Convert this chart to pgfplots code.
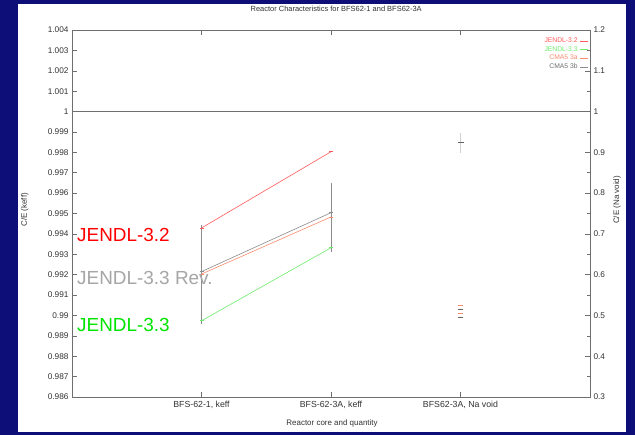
\documentclass[border=0pt]{standalone}
\usepackage{pgfplots}
\pgfplotsset{compat=1.18}
\usepackage{fontspec}
\setmainfont{Liberation Sans}
\definecolor{slideblue}{RGB}{14,14,120}
\definecolor{cred}{RGB}{255,90,90}
\definecolor{cgreen}{RGB}{110,235,110}
\definecolor{corange}{RGB}{250,140,110}
\definecolor{cgray}{RGB}{140,140,140}
\definecolor{axgray}{RGB}{110,110,110}
\begin{document}
\begin{tikzpicture}
\fill[slideblue] (0bp,0bp) rectangle (635bp,435bp);
\fill[white] (18bp,3bp) rectangle (626bp,431bp);
\begin{axis}[
  at={(72bp,38bp)}, anchor=south west,
  scale only axis, width=518bp, height=367bp,
  xmin=0, xmax=4, ymin=0.986, ymax=1.004,
  axis line style={axgray, line width=0.6pt},
  tick style={axgray, line width=0.5pt},
  tick align=inside, major tick length=5bp,
  xtick={1,2,3},
  xticklabels={{BFS-62-1, keff},{BFS-62-3A, keff},{BFS62-3A, Na void}},
  ytick={0.986,0.987,0.988,0.989,0.99,0.991,0.992,0.993,0.994,0.995,0.996,0.997,0.998,0.999,1,1.001,1.002,1.003,1.004},
  yticklabels={0.986,0.987,0.988,0.989,0.99,0.991,0.992,0.993,0.994,0.995,0.996,0.997,0.998,0.999,1,1.001,1.002,1.003,1.004},
  ytick pos=left,
  ticklabel style={font=\fontsize{8.3}{9}\selectfont, text=black!80},
  xticklabel style={yshift=-1bp, font=\fontsize{8.8}{9}\selectfont},
  xlabel={Reactor core and quantity},
  xlabel style={at={(axis description cs:0.502,-0.071)}, anchor=center, font=\fontsize{8}{9}\selectfont, text=black!80},
  ylabel={C/E (keff)},
  ylabel style={at={(axis description cs:-0.091,0.51)}, anchor=center, font=\fontsize{8}{9}\selectfont, text=black!80},
  title={Reactor Characteristics for BFS62-1 and BFS62-3A},
  title style={at={(axis description cs:0.51,1.041)}, anchor=center, font=\fontsize{7.5}{8}\selectfont, text=black!80},
  legend style={at={(0.997,0.985)}, anchor=north east, draw=none, fill=none,
    font=\fontsize{6.8}{7}\selectfont, row sep=-1.5bp, inner sep=0pt},
  legend cell align=right, legend plot pos=right,
  legend image code/.code={\draw[#1] (0bp,0bp) -- (8bp,0bp); \draw[#1, mark repeat=1] plot coordinates {(4bp,0bp)};},
  clip=false,
]
\addplot[axgray, line width=0.6pt, forget plot] coordinates {(0,1) (4,1)};
\addplot[cred, line width=0.6pt, mark=-, mark size=2bp] coordinates {(1,0.99429) (2,0.99803)};
\addlegendentry{\textcolor{cred}{JENDL-3.2}}
\addplot[cgreen, line width=0.6pt, mark=-, mark size=2bp] coordinates {(1,0.98974) (2,0.99332)};
\addlegendentry{\textcolor{cgreen}{JENDL-3.3}}
\addplot[corange, line width=0.6pt, mark=-, mark size=2bp] coordinates {(1,0.99203) (2,0.99483)};
\addlegendentry{\textcolor{corange}{CMA5 3a}}
\addplot[cgray, line width=0.6pt, mark=-, mark size=2bp,
  error bars/.cd, y dir=both, y explicit, error bar style={cgray, line width=0.6pt}, error mark=-, error mark options={mark size=2bp}]
  coordinates {(1,0.99215) -= (0,0.00247) += (0,0.00219) (2,0.99504) -= (0,0.00183) += (0,0.00136)};
\addlegendentry{\textcolor{cgray!80!black}{CMA5 3b}}
\end{axis}
\begin{axis}[
  at={(72bp,38bp)}, anchor=south west,
  scale only axis, width=518bp, height=367bp,
  xmin=0, xmax=4, ymin=0.3, ymax=1.2,
  axis x line=none, axis y line*=right,
  axis line style={axgray, line width=0.6pt, -},
  tick style={axgray, line width=0.5pt},
  tick align=inside, major tick length=5bp, minor tick length=3bp,
  ytick={0.3,0.4,0.5,0.6,0.7,0.8,0.9,1,1.1,1.2},
  yticklabels={0.3,0.4,0.5,0.6,0.7,0.8,0.9,1,1.1,1.2},
  minor y tick num=1,
  ticklabel style={font=\fontsize{8.3}{9}\selectfont, text=black!80},
  ylabel={C/E (Na void)},
  ylabel style={at={(axis description cs:1.052,0.537)}, anchor=center, font=\fontsize{8}{9}\selectfont, text=black!80},
  clip=false,
]
\addplot[only marks, corange, mark=-, mark size=2.5bp, line width=0.8pt] coordinates {(3,0.525)};
\addplot[only marks, cgray!70!black, mark=-, mark size=2.5bp, line width=0.8pt] coordinates {(3,0.515)};
\addplot[only marks, corange, mark=-, mark size=2.5bp, line width=0.8pt] coordinates {(3,0.505)};
\addplot[only marks, cgray!70!black, mark=-, mark size=2.5bp, line width=0.8pt] coordinates {(3,0.495)};
\addplot[only marks, cgray!70!black, mark=-, mark size=3bp, line width=1pt,
  error bars/.cd, y dir=both, y explicit, error bar style={cgray!40, line width=0.4pt}, error mark=-, error mark options={mark size=2bp}]
  coordinates {(3,0.923) +- (0,0.02)};
\end{axis}
\node[anchor=west, font=\fontsize{19}{20}\selectfont, text=red, inner sep=0pt] at (77bp,200bp) {JENDL-3.2};
\node[anchor=west, font=\fontsize{19}{20}\selectfont, text=black!35, inner sep=0pt] at (77bp,157bp) {JENDL-3.3 Rev.};
\node[anchor=west, font=\fontsize{19}{20}\selectfont, text=green!90!black, inner sep=0pt] at (77bp,110bp) {JENDL-3.3};
\end{tikzpicture}
\end{document}
